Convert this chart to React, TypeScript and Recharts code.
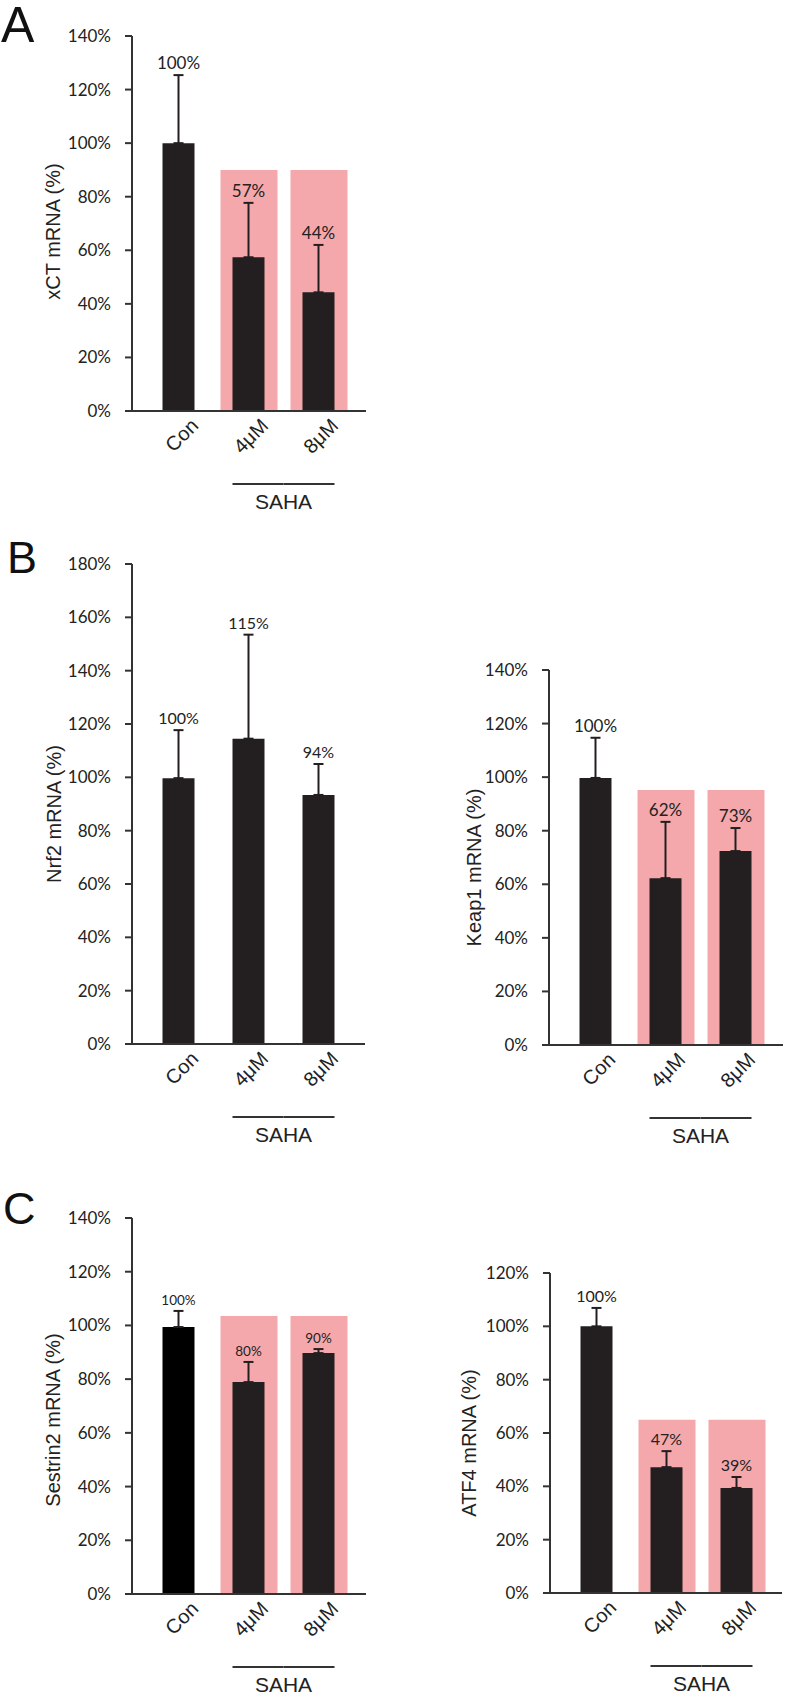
import React from "react";
import {
  ComposedChart,
  Bar,
  Line,
  XAxis,
  YAxis,
  ErrorBar,
  LabelList,
  Cell,
} from "recharts";

// categories shared by every panel
const groups = ["Con", "4μM", "8μM"];
const sahaGroups = ["4μM", "8μM"];

// A: xCT
const xctMean = [100, 57.4, 44.3];
const xctErr = [25.4, 20.3, 17.7];
const xctBand = [null, 90, 90];
const xctLabels = ["100%", "57%", "44%"];
const xctTicks = [0, 20, 40, 60, 80, 100, 120, 140];

// B left: Nrf2
const nrf2Mean = [99.7, 114.5, 93.4];
const nrf2Err = [18, 39, 11.6];
const nrf2Labels = ["100%", "115%", "94%"];
const nrf2Ticks = [0, 20, 40, 60, 80, 100, 120, 140, 160, 180];

// B right: Keap1
const keap1Mean = [99.7, 62.3, 72.4];
const keap1Err = [15, 21, 8.6];
const keap1Band = [null, 95.2, 95.2];
const keap1Labels = ["100%", "62%", "73%"];
const keap1Ticks = [0, 20, 40, 60, 80, 100, 120, 140];

// C left: Sestrin2
const sestrinMean = [99.4, 78.9, 89.7];
const sestrinErr = [6, 7.5, 1.5];
const sestrinBand = [null, 103.5, 103.5];
const sestrinLabels = ["100%", "80%", "90%"];
const sestrinTicks = [0, 20, 40, 60, 80, 100, 120, 140];

// C right: ATF4
const atf4Mean = [100, 47.2, 39.4];
const atf4Err = [6.9, 6, 4.1];
const atf4Band = [null, 65, 65];
const atf4Labels = ["100%", "47%", "39%"];
const atf4Ticks = [0, 20, 40, 60, 80, 100, 120];

const AXIS = "#333333";
const BAR = "#231f20";
const PINK = "#f5a8ab";
const ARIAL = "'Liberation Sans', Arial, sans-serif";
const NUMS = "Lato, 'Open Sans', sans-serif";
const Y_W = 132;
const BAND = 70;
const PAD_L = 11.5;

function GroupTick(props: any) {
  const { x, y, payload } = props;
  const ax = x + 21;
  const ay = y + 16;
  const v = payload.value;
  const first = v === sahaGroups[0];
  const last = v === sahaGroups[sahaGroups.length - 1];
  return (
    <g>
      <text
        x={ax}
        y={ay}
        transform={`rotate(-45 ${ax} ${ay})`}
        textAnchor="end"
        fontFamily={ARIAL}
        fontSize={20}
        fill="#222"
      >
        {v}
      </text>
      {first && (
        <line x1={x - 16} x2={x + BAND / 2} y1={y + 73} y2={y + 73} stroke={AXIS} strokeWidth={2} />
      )}
      {last && (
        <line x1={x - BAND / 2} x2={x + 16} y1={y + 73} y2={y + 73} stroke={AXIS} strokeWidth={2} />
      )}
      {first && (
        <text x={x + BAND / 2} y={y + 98} textAnchor="middle" fontFamily={ARIAL} fontSize={21} fill="#222">
          SAHA
        </text>
      )}
    </g>
  );
}

function YTitle(props: any) {
  const { viewBox, text, cx, dy } = props;
  const x = viewBox.x + cx;
  const y = viewBox.y + viewBox.height / 2 + dy;
  return (
    <text
      x={x}
      y={y}
      transform={`rotate(-90 ${x} ${y})`}
      textAnchor="middle"
      dominantBaseline="central"
      fontFamily={ARIAL}
      fontSize={20}
      fill="#222"
    >
      {text}
    </text>
  );
}

interface PanelProps {
  axisX: number;
  plotTop: number;
  plotHeight: number;
  plotWidth: number;
  title: string;
  titleX: number;
  titleDy: number;
  means: number[];
  errs: number[];
  bands?: (number | null)[];
  labels: string[];
  ticks: number[];
  labelSize: number;
  conColor?: string;
}

function Panel(p: PanelProps) {
  const rows = groups.map((g, i) => ({
    group: g,
    mean: p.means[i],
    err: [0, p.errs[i]],
    band: p.bands ? p.bands[i] : null,
    top: p.means[i] + p.errs[i],
    label: p.labels[i],
  }));
  const marginTop = 30;
  const axisH = 115;
  const width = Y_W + p.plotWidth + 10;
  const height = marginTop + p.plotHeight + axisH;
  const pad = { left: PAD_L, right: p.plotWidth - PAD_L - 3 * BAND };
  const max = p.ticks[p.ticks.length - 1];
  return (
    <div style={{ position: "absolute", left: p.axisX - Y_W, top: p.plotTop - marginTop }}>
      <ComposedChart
        width={width}
        height={height}
        data={rows}
        margin={{ top: marginTop, right: 10, bottom: 0, left: 0 }}
      >
        <XAxis
          xAxisId="main"
          dataKey="group"
          height={axisH}
          padding={pad}
          interval={0}
          tickSize={0}
          tickMargin={0}
          tickLine={false}
          axisLine={{ stroke: AXIS, strokeWidth: 2 }}
          tick={<GroupTick />}
        />
        <XAxis xAxisId="bg" dataKey="group" hide height={0} padding={pad} />
        <YAxis
          width={Y_W}
          domain={[0, max]}
          ticks={p.ticks}
          interval={0}
          tickFormatter={(v: number) => `${v}%`}
          tickSize={7}
          tickMargin={14}
          axisLine={{ stroke: AXIS, strokeWidth: 2 }}
          tickLine={{ stroke: AXIS, strokeWidth: 2 }}
          tick={{ fontFamily: NUMS, fontSize: 17, fill: "#222" }}
          label={<YTitle text={p.title} cx={p.titleX} dy={p.titleDy} />}
        />
        <Bar xAxisId="bg" dataKey="band" fill={PINK} barSize={57} isAnimationActive={false} />
        <Bar xAxisId="main" dataKey="mean" barSize={32} isAnimationActive={false}>
          {rows.map((r, i) => (
            <Cell key={r.group} fill={i === 0 && p.conColor ? p.conColor : BAR} />
          ))}
          <ErrorBar dataKey="err" direction="y" width={5} stroke={BAR} strokeWidth={2} />
        </Bar>
        <Line
          xAxisId="main"
          dataKey="top"
          stroke="none"
          dot={false}
          activeDot={false}
          legendType="none"
          isAnimationActive={false}
        >
          <LabelList
            dataKey="label"
            position="top"
            offset={6}
            fontFamily={NUMS}
            fontSize={p.labelSize}
            fill="#222"
          />
        </Line>
      </ComposedChart>
    </div>
  );
}

function Letter({ x, y, size, children }: { x: number; y: number; size: number; children: string }) {
  return (
    <svg
      width={50}
      height={40}
      style={{ position: "absolute", left: x, top: y - 38, overflow: "visible" }}
    >
      <text x={0} y={38} fontFamily={ARIAL} fontSize={size} fill="#111">
        {children}
      </text>
    </svg>
  );
}

export default function App() {
  return (
    <div
      style={{
        position: "absolute",
        left: 0,
        top: 0,
        width: 788,
        height: 1698,
        background: "#fff",
        overflow: "hidden",
      }}
    >
      <Letter x={1} y={42} size={50}>A</Letter>
      <Letter x={7} y={573} size={45}>B</Letter>
      <Letter x={3} y={1224} size={45}>C</Letter>

      <Panel
        axisX={132}
        plotTop={36}
        plotHeight={375}
        plotWidth={234}
        title="xCT mRNA (%)"
        titleX={53}
        titleDy={8}
        means={xctMean}
        errs={xctErr}
        bands={xctBand}
        labels={xctLabels}
        ticks={xctTicks}
        labelSize={17}
      />
      <Panel
        axisX={132}
        plotTop={564}
        plotHeight={480}
        plotWidth={233}
        title="Nrf2 mRNA (%)"
        titleX={54}
        titleDy={10}
        means={nrf2Mean}
        errs={nrf2Err}
        labels={nrf2Labels}
        ticks={nrf2Ticks}
        labelSize={16}
      />
      <Panel
        axisX={549}
        plotTop={670}
        plotHeight={375}
        plotWidth={234}
        title="Keap1 mRNA (%)"
        titleX={57}
        titleDy={10}
        means={keap1Mean}
        errs={keap1Err}
        bands={keap1Band}
        labels={keap1Labels}
        ticks={keap1Ticks}
        labelSize={17}
      />
      <Panel
        axisX={132}
        plotTop={1218}
        plotHeight={376}
        plotWidth={234}
        title="Sestrin2 mRNA (%)"
        titleX={53}
        titleDy={14}
        means={sestrinMean}
        errs={sestrinErr}
        bands={sestrinBand}
        labels={sestrinLabels}
        ticks={sestrinTicks}
        labelSize={13.5}
        conColor="#000000"
      />
      <Panel
        axisX={550}
        plotTop={1273}
        plotHeight={320}
        plotWidth={232}
        title="ATF4 mRNA (%)"
        titleX={51}
        titleDy={10}
        means={atf4Mean}
        errs={atf4Err}
        bands={atf4Band}
        labels={atf4Labels}
        ticks={atf4Ticks}
        labelSize={16}
      />
    </div>
  );
}
